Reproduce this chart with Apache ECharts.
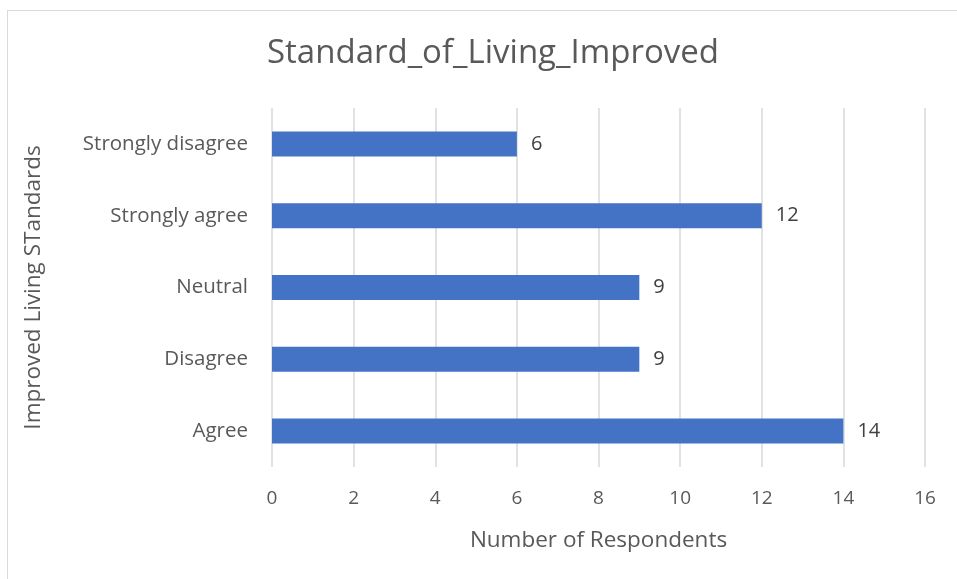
<!DOCTYPE html>
<html>
<head>
<meta charset="utf-8">
<script src="https://cdn.jsdelivr.net/npm/echarts@6/dist/echarts.min.js"></script>
<style>
  html, body { margin: 0; padding: 0; background: #fff; }
  #frame { position: absolute; left: 7px; top: 10px; width: 960px; height: 580px; border: 1px solid #d9d9d9; box-sizing: border-box; }
  #chart { position: absolute; left: 0; top: 0; width: 957px; height: 579px; }
</style>
</head>
<body>
<div id="frame"></div>
<div id="chart"></div>
<script>
var categories = ["Agree", "Disagree", "Neutral", "Strongly agree", "Strongly disagree"];
var respondents = [14, 9, 9, 12, 6];
var xTicks = [0, 2, 4, 6, 8, 10, 12, 14, 16];

var font = "'Open Sans', 'Noto Sans', sans-serif";
var grey = "#595959";

var myChart = echarts.init(document.getElementById("chart"));
myChart.setOption({
  animation: false,
  textStyle: { fontFamily: font },
  title: {
    text: "Standard_of_Living_Improved",
    left: 488,
    top: 32,
    textAlign: "center",
    textStyle: { fontSize: 33, fontWeight: "normal", color: grey, fontFamily: font },
  },
  grid: {
    left: 272,
    right: 32,
    top: 108,
    bottom: 112,
    containLabel: false,
  },
  xAxis: {
    type: "value",
    min: xTicks[0],
    max: xTicks[xTicks.length - 1],
    interval: 2,
    name: "Number of Respondents",
    nameLocation: "middle",
    nameGap: 62,
    nameTextStyle: { fontSize: 22.5, color: grey, fontFamily: font },
    axisLine: { show: false },
    axisTick: { show: false },
    axisLabel: { fontSize: 19, color: grey, margin: 22, fontFamily: font },
    splitLine: { lineStyle: { color: "#d9d9d9", width: 1.5 } },
  },
  yAxis: {
    type: "category",
    data: categories,
    name: "Improved Living STandards",
    nameLocation: "middle",
    nameGap: 227,
    nameRotate: 90,
    nameTextStyle: { fontSize: 22.5, color: grey, fontFamily: font },
    axisLine: { show: false },
    axisTick: { show: false },
    axisLabel: { fontSize: 20.5, color: grey, margin: 24, fontFamily: font },
  },
  series: [
    {
      type: "bar",
      data: respondents,
      barWidth: 25,
      itemStyle: { color: "#4472c4" },
      label: {
        show: true,
        position: "right",
        distance: 14,
        fontSize: 20,
        color: "#404040",
        fontFamily: font,
      },
    },
  ],
});
</script>
</body>
</html>
